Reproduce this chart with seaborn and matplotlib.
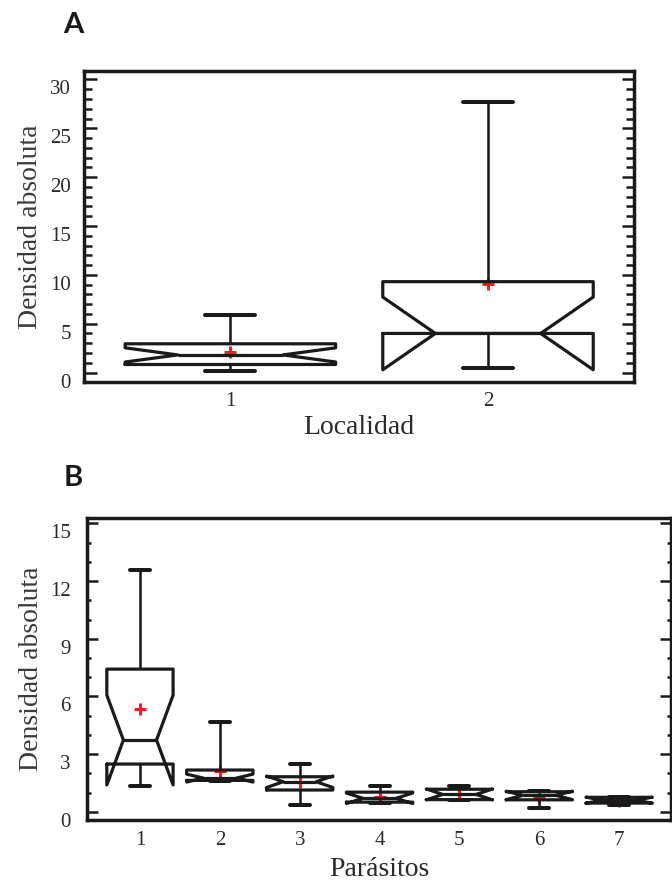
import numpy as np
import pandas as pd
import matplotlib
matplotlib.use("Agg")
import matplotlib.pyplot as plt
import matplotlib.transforms as mtransforms
from matplotlib.ticker import MultipleLocator
import seaborn as sns

localidad_labels = ["1", "2"]
localidad_1 = [0.17, 0.35, 0.50, 0.62, 0.75, 0.82, 1.00, 1.20, 1.40, 1.60, 1.80,
               2.00, 2.20, 2.45, 2.70, 2.94, 3.20, 3.60, 4.10, 4.43, 5.87]
localidad_2 = [0.5, 4.0, 4.0, 9.3, 27.7]

parasito_labels = ["1", "2", "3", "4", "5", "6", "7"]
parasito_1 = [1.34, 1.90, 2.30, 2.66, 3.20, 3.73, 5.50, 6.90, 7.94, 10.70, 12.57]
parasito_2 = [1.60, 1.60, 1.62, 1.62, 1.63, 1.65, 1.68, 1.72, 1.75, 1.85, 1.95,
              2.05, 2.17, 2.40, 2.70, 3.06, 4.65]
parasito_3 = [0.35, 0.90, 1.05, 1.13, 1.30, 1.45, 1.56, 1.65, 1.75, 1.82, 2.10, 2.30, 2.48]
parasito_4 = [0.45, 0.47, 0.50, 0.52, 0.70, 0.75, 1.02, 1.05, 1.35]
parasito_5 = [0.62, 0.62, 0.63, 0.75, 0.90, 1.00, 1.17, 1.20, 1.35]
parasito_6 = [0.18, 0.50, 0.62, 0.70, 0.85, 0.95, 1.04, 1.04, 1.06]
parasito_7 = [0.33, 0.40, 0.45, 0.50, 0.60, 0.68, 0.75, 0.75, 0.76]

dfA = pd.DataFrame({
    "Localidad": ["1"] * len(localidad_1) + ["2"] * len(localidad_2),
    "Densidad": localidad_1 + localidad_2,
})
par_groups = [parasito_1, parasito_2, parasito_3, parasito_4,
              parasito_5, parasito_6, parasito_7]
dfB = pd.DataFrame({
    "Parasito": sum([[lab] * len(g) for lab, g in zip(parasito_labels, par_groups)], []),
    "Densidad": sum(par_groups, []),
})

# ---------------- style ----------------
sns.set_style("ticks")
plt.rcParams["font.family"] = ["Liberation Serif", "DejaVu Serif"]
plt.rcParams["axes.linewidth"] = 2.5
plt.rcParams["axes.edgecolor"] = "#1a1a1a"

LINE = "#1a1a1a"
MEANC = "#ff1a1a"
TXT = "#2a2a2a"

fig = plt.figure(figsize=(6.72, 8.84), dpi=100)
axA = fig.add_axes([0.1243, 0.5679, 0.8185, 0.3518])
axB = fig.add_axes([0.1290, 0.0724, 0.8695, 0.3416])


def draw(ax, df, xcol, order, width, capw, lw):
    sns.boxplot(
        data=df, x=xcol, y="Densidad", order=order, ax=ax,
        notch=True, fill=False, color=LINE, linecolor=LINE, linewidth=lw,
        width=width, whis=(0, 100), showfliers=False,
        showmeans=True,
        meanprops={"marker": "+", "markeredgecolor": MEANC, "markerfacecolor": MEANC,
                   "markersize": 9, "markeredgewidth": 2.2, "zorder": 1.5},
        whiskerprops={"linewidth": lw * 0.8},
        capprops={"linewidth": lw * 1.25},
        capwidths=capw,
    )


draw(axA, dfA, "Localidad", localidad_labels, 0.817, 0.194, 2.3)
draw(axB, dfB, "Parasito", parasito_labels, 0.83, 0.25, 2.3)

# ---------------- axes A ----------------
axA.set_xlim(-0.570, 1.565)
axA.set_ylim(-0.97, 30.87)
axA.yaxis.set_major_locator(MultipleLocator(5))
axA.yaxis.set_minor_locator(MultipleLocator(1))
axA.tick_params(axis="y", which="both", direction="in", left=True, right=True,
                width=1.8, color=LINE, labelsize=15, labelcolor=TXT, pad=9)
axA.tick_params(axis="y", which="major", length=9)
axA.tick_params(axis="y", which="minor", length=5.5)
axA.tick_params(axis="x", length=0, labelsize=15, labelcolor=TXT, pad=7)
axA.set_xlabel("Localidad", fontsize=20, color=TXT, labelpad=3)
axA.set_ylabel("Densidad absoluta", fontsize=20, color="#3a3a3a", labelpad=5)

# ---------------- axes B ----------------
axB.set_xlim(-0.667, 6.649)
axB.set_ylim(-0.43, 15.28)
axB.yaxis.set_major_locator(MultipleLocator(3))
axB.yaxis.set_minor_locator(MultipleLocator(1))
axB.tick_params(axis="y", which="both", direction="in", left=True, right=True,
                width=1.8, color=LINE, labelsize=15, labelcolor=TXT, pad=11.5)
axB.tick_params(axis="y", which="major", length=8)
axB.tick_params(axis="y", which="minor", length=3)
axB.tick_params(axis="x", length=0, labelsize=15, labelcolor=TXT, pad=8)
axB.set_xlabel("Parásitos", fontsize=20, color=TXT, labelpad=5)
axB.set_ylabel("Densidad absoluta", fontsize=20, color="#3a3a3a", labelpad=4)

for ax in (axA, axB):
    for sp in ax.spines.values():
        sp.set_visible(True)
        sp.set_linewidth(2.5)
        sp.set_color(LINE)
    # labels in the reference sit slightly below their ticks
    off = mtransforms.ScaledTranslation(0, -0.08, fig.dpi_scale_trans)
    for t in ax.yaxis.get_major_ticks():
        t.label1.set_transform(t.label1.get_transform() + off)

fig.text(73 / 672, 1 - 25 / 884, "A", fontsize=21, fontweight="bold",
         family=["Lato", "DejaVu Sans"], ha="center", va="center", color="#1a1a1a")
fig.text(73 / 672, 1 - 478 / 884, "B", fontsize=21, fontweight="bold",
         family=["Lato", "DejaVu Sans"], ha="center", va="center", color="#1a1a1a")

fig.savefig("out.png", dpi=100)
